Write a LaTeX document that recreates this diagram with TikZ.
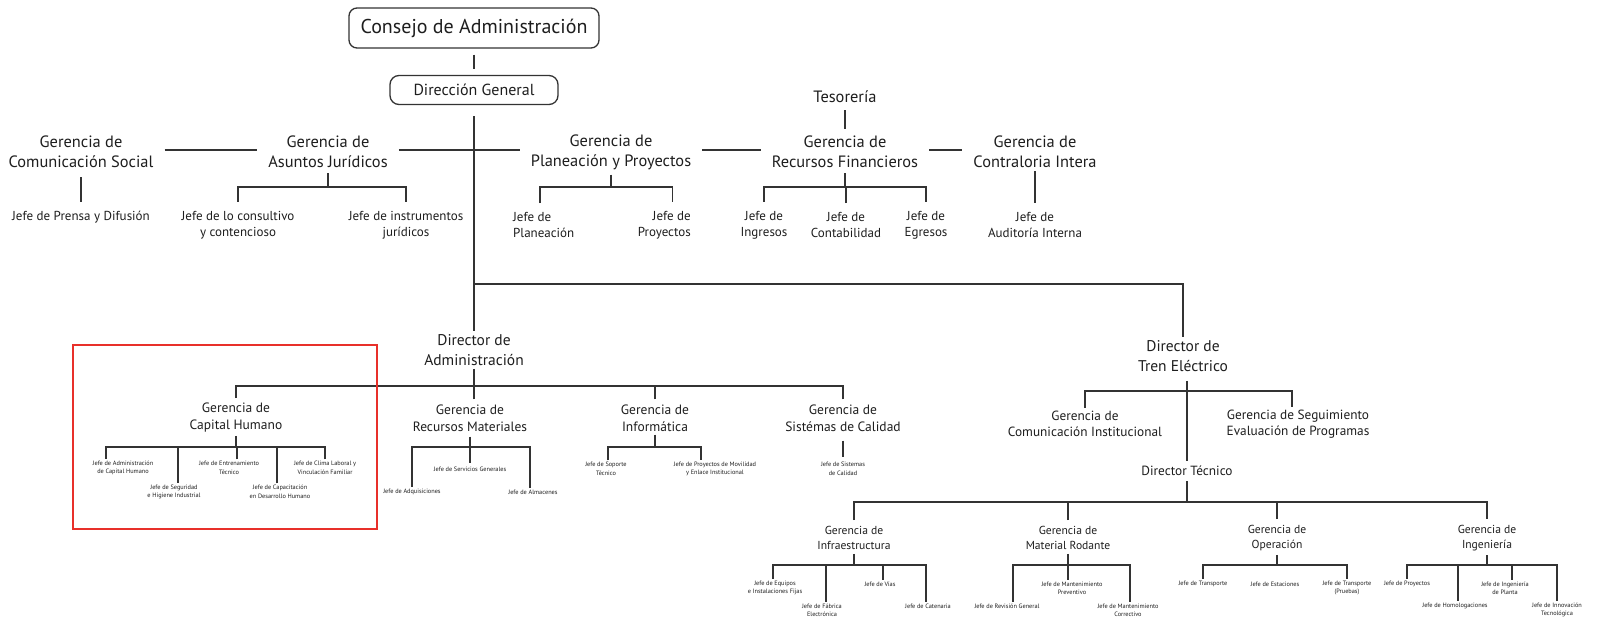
\documentclass[tikz,border=0pt]{standalone}
\usepackage{fontspec}
\setmainfont{PT Sans}
\usetikzlibrary{calc}
\definecolor{ln}{HTML}{333333}
\definecolor{tx}{HTML}{1E1E1E}
\definecolor{redb}{HTML}{E8302A}
\newcommand{\fsz}[2]{\fontsize{#1}{#2}\selectfont}
\begin{document}
\begin{tikzpicture}[x=1pt,y=-1pt,
  lk/.style={draw=ln,line width=1.5pt},
  lks/.style={draw=ln,line width=1.2pt},
  tt/.style={inner sep=3pt,align=center,text=tx},
  rbox/.style={draw=ln,line width=1.3pt,rounded corners=8pt,inner sep=0pt,text=tx},
  ga/.style={tt,font=\fsz{16.4}{20}},
  ja/.style={tt,font=\fsz{13}{16}},
  da/.style={tt,font=\fsz{15.5}{20}},
  gb/.style={tt,font=\fsz{13.5}{17}},
  tiny/.style={tt,inner sep=2pt,font=\fsz{6.3}{8.5}},
  gc/.style={tt,font=\fsz{13.3}{16}},
  gd/.style={tt,font=\fsz{11.6}{15}},
  tinyb/.style={tt,inner sep=2pt,font=\fsz{6.3}{8}}
]
\fill[white] (0,0) rectangle (1597,629);
\useasboundingbox (0,0) rectangle (1597,629);

% ---------- top ----------
\node[rbox,minimum width=250pt,minimum height=40pt,font=\fsz{20}{24}] (cons) at (474,28) {Consejo de Administración};
\node[rbox,minimum width=168pt,minimum height=29pt,rounded corners=9pt,font=\fsz{16}{19}] (dg) at (474,90) {Dirección General};
\draw[lk] ([yshift=-6pt]cons.south) -- ([yshift=6pt]dg.north);

% ---------- first row of gerencias ----------
\node[ga] (tes) at (845,97) {Tesorería};
\node[ga] (gcs) at (81,152) {Gerencia de\\Comunicación Social};
\node[ga] (gaj) at (328,152) {Gerencia de\\Asuntos Jurídicos};
\node[ga] (gpp) at (611,152) {Gerencia de\\Planeación y Proyectos};
\node[ga] (grf) at (845,152) {Gerencia de\\Recursos Financieros};
\node[ga] (gci) at (1035,152) {Gerencia de\\Contraloria Intera};

\foreach \a/\b in {gcs/gaj,gaj/gpp,gpp/grf,grf/gci}
  \draw[lk,shorten <=8pt,shorten >=8pt] ([yshift=2pt]\a.east) -- ([yshift=2pt]\b.west);
\draw[lk,shorten <=4pt,shorten >=4pt] (tes.south) -- (grf.north);

\node[ja] (jps) at (81,217) {Jefe de Prensa y Difusión};
\node[ja] (jlc) at (238,225) {Jefe de lo consultivo\\y contencioso};
\node[ja] (jij) at (406,225) {Jefe de instrumentos\\jurídicos};
\node[ja,align=left,anchor=west] (jpl) at (510,225) {Jefe de\\Planeación};
\node[ja,align=right,anchor=east] (jpr) at (694,225) {Jefe de\\Proyectos};
\node[ja] (jin) at (764,225) {Jefe de\\Ingresos};
\node[ja] (jco) at (846,225) {Jefe de\\Contabilidad};
\node[ja] (jeg) at (926,225) {Jefe de\\Egresos};
\node[ja] (jai) at (1035,225) {Jefe de\\Auditoría Interna};

\coordinate (b1) at (0,187);
\draw[lk,shorten <=6pt,shorten >=6pt] (gcs.south) -- (jps.north);
\draw[lk,shorten >=6pt] (gci.south) -- (jai.north);
\draw[lk,shorten <=2pt] (gaj.south) -- (gaj.south |- b1);
\draw[lk,shorten <=2pt] (gpp.south) -- (gpp.south |- b1);
\draw[lk,shorten <=2pt] (grf.south) -- (grf.south |- b1);
\foreach \c/\p in {jlc/gaj,jij/gaj,jin/grf,jco/grf,jeg/grf}
  \draw[lk,shorten <=6pt] (\c.north) |- (\p.south |- b1);
\draw[lk,shorten <=6pt] ([xshift=-4pt]jpl.north) |- (gpp.south |- b1);
\draw[lk,shorten <=6pt] ([xshift=8pt]jpr.north) |- (gpp.south |- b1);

% ---------- directors ----------
\node[da] (dad) at (474,350) {Director de\\Administración};
\node[da] (dte) at (1183,356) {Director de\\Tren Eléctrico};
\coordinate (j0) at (474,284);
\draw[lk,shorten <=11pt] (dg.south) -- (dad.north);
\draw[lk] (j0) -| (dte.north);

% ---------- administration ----------
\node[gb] (gch) at (236,418) {Gerencia de\\Capital Humano};
\node[gb] (grm) at (470,418) {Gerencia de\\Recursos Materiales};
\node[gb] (gin) at (655,418) {Gerencia de\\Informática};
\node[gb] (gsc) at (843,418) {Gerencia de\\Sistémas de Calidad};
\coordinate (b2) at (0,386);
\draw[lk] (dad.south) -- (dad.south |- b2);
\foreach \c in {gch,gin,gsc}
  \draw[lk,shorten <=2pt] (\c.north) |- (dad.south |- b2);
\draw[lk,shorten <=2pt] (dad.south |- grm.north) -- (dad.south |- b2);

\draw[redb,line width=1.4pt] (73,345) rectangle (377,529);

\node[tiny] (h1) at (123,468) {Jefe de Administración\\de Capital Humano};
\node[tiny] (h2) at (174,492) {Jefe de Seguridad\\e Higiene Industrial};
\node[tiny] (h3) at (229,468) {Jefe de Entrenamiento\\Técnico};
\node[tiny] (h4) at (280,492) {Jefe de Capacitación\\en Desarrollo Humano};
\node[tiny] (h5) at (325,468) {Jefe de Clima Laboral y\\Vinculación Familiar};
\coordinate (b3) at (0,447);
\draw[lks] (gch.south) -- (gch.south |- b3);
\draw[lks] ([xshift=-17pt]h1.north) |- (gch.south |- b3);
\draw[lks] ([xshift=4pt]h2.north) |- (gch.south |- b3);
\draw[lks] ([xshift=8pt]h3.north) |- (gch.south |- b3);
\draw[lks] ([xshift=-3pt]h4.north) |- (gch.south |- b3);
\draw[lks] (h5.north) |- (gch.south |- b3);

\node[tiny] (r1) at (470,469) {Jefe de Servicios Generales};
\node[tiny] (r2) at (412,492) {Jefe de Adquisiciones};
\node[tiny] (r3) at (533,492) {Jefe de Almacenes};
\draw[lks,shorten <=2pt,shorten >=2pt] (grm.south) -- (grm.south |- r1.north);
\draw[lks] (r2.north) |- (grm.south |- b3);
\draw[lks] ([xshift=-3pt]r3.north) |- (grm.south |- b3);

\node[tiny] (i1) at (606,469) {Jefe de Soporte\\Técnico};
\node[tiny] (i2) at (715,469) {Jefe de Proyectos de Movilidad\\y Enlace Institucional};
\draw[lks] (gin.south) -- (gin.south |- b3);
\draw[lks] ([xshift=2pt]i1.north) |- (gin.south |- b3);
\draw[lks] ([xshift=-14pt]i2.north) |- (gin.south |- b3);

\node[tiny] (s1) at (843,469) {Jefe de Sistemas\\de Calidad};
\draw[lks,shorten <=6pt,shorten >=3pt] (gsc.south) -- (gsc.south |- s1.north);

% ---------- tren electrico ----------
\node[gc] (gcin) at (1085,424) {Gerencia de\\Comunicación Institucional};
\node[gc] (gsep) at (1298,424) {Gerencia de Seguimiento\\Evaluación de Programas};
\node[gc] (dtec) at (1187,471) {Director Técnico};
\coordinate (b4) at (0,391);
\draw[lk,shorten <=6pt,shorten >=2pt] (dte.south -| dtec.north) -- (dtec.north);
\draw[lk] (gcin.north) |- (dte.south |- b4);
\draw[lk] ([xshift=-6pt]gsep.north) |- (dte.south |- b4);

\node[gd] (gif) at (854,538) {Gerencia de\\Infraestructura};
\node[gd] (gmr) at (1068,538) {Gerencia de\\Material Rodante};
\node[gd] (gop) at (1277,538) {Gerencia de\\Operación};
\node[gd] (gig) at (1487,538) {Gerencia de\\Ingeniería};
\coordinate (b5) at (0,502);
\draw[lk,shorten <=2pt] (dtec.south) -- (dtec.south |- b5);
\foreach \c in {gif,gmr,gop,gig}
  \draw[lk,shorten <=3pt] (\c.north) |- (dtec.south |- b5);

\node[tinyb] (k1) at (775,588) {Jefe de Equipos\\e Instalaciones Fijas};
\node[tinyb] (k2) at (822,610) {Jefe de Fábrica\\Electrónica};
\node[tinyb] (k3) at (880,584) {Jefe de Vías};
\node[tinyb] (k4) at (928,606) {Jefe de Catenaria};
\node[tinyb] (m1) at (1007,606) {Jefe de Revisión General};
\node[tinyb] (m2) at (1072,588) {Jefe de Mantenimiento\\Preventivo};
\node[tinyb] (m3) at (1128,610) {Jefe de Mantenimiento\\Correctivo};
\node[tinyb] (o1) at (1203,584) {Jefe de Transporte};
\node[tinyb] (o2) at (1275,584) {Jefe de Estaciones};
\node[tinyb] (o3) at (1347,588) {Jefe de Transporte\\(Pruebas)};
\node[tinyb] (n1) at (1407,584) {Jefe de Proyectos};
\node[tinyb] (n2) at (1455,606) {Jefe de Homologaciones};
\node[tinyb] (n3) at (1505,588) {Jefe de Ingeniería\\de Planta};
\node[tinyb] (n4) at (1557,610) {Jefe de Innovación\\Tecnológica};
\coordinate (b6) at (0,565);
\foreach \c in {gif,gmr,gop,gig}
  \draw[lks,shorten <=1pt] (\c.south) -- (\c.south |- b6);
\draw[lks] ([xshift=-2pt]k1.north) |- (gif.south |- b6);
\draw[lks] ([xshift=4pt]k2.north) |- (gif.south |- b6);
\draw[lks] ([xshift=3pt]k3.north) |- (gif.south |- b6);
\draw[lks] ([xshift=-2pt]k4.north) |- (gif.south |- b6);
\draw[lks] ([xshift=6pt]m1.north) |- (gmr.south |- b6);
\draw[lks] ([xshift=-4pt]m2.north) |- (gmr.south |- b6);
\draw[lks] ([xshift=2pt]m3.north) |- (gmr.south |- b6);
\draw[lks] (o1.north) |- (gop.south |- b6);
\draw[lks] (o3.north) |- (gop.south |- b6);
\draw[lks] (n1.north) |- (gig.south |- b6);
\draw[lks] ([xshift=3pt]n2.north) |- (gig.south |- b6);
\draw[lks] ([xshift=7pt]n3.north) |- (gig.south |- b6);
\draw[lks] (n4.north) |- (gig.south |- b6);
\end{tikzpicture}
\end{document}
